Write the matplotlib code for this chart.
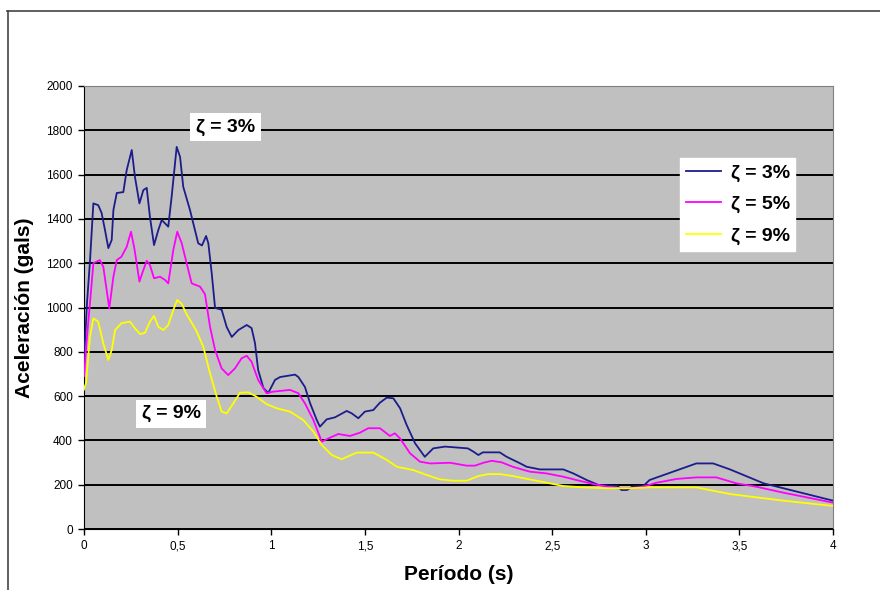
'''Espectros de respuesta de aceleracion para tres amortiguamientos.'''
import matplotlib as mpl
mpl.use('Agg')
import matplotlib.pyplot as plt
from matplotlib.lines import Line2D

# zeta = 3 %
t_3 = [0, 0.016, 0.032, 0.05, 0.076, 0.094, 0.112, 0.13, 0.148, 0.157, 0.175,
       0.21, 0.228, 0.255, 0.272, 0.296, 0.317, 0.335, 0.352, 0.374, 0.397,
       0.415, 0.45, 0.468, 0.495, 0.513, 0.53, 0.566, 0.61, 0.63, 0.652,
       0.664, 0.682, 0.70, 0.735, 0.762, 0.789, 0.824, 0.869, 0.895, 0.913,
       0.93, 0.958, 0.984, 1.02, 1.047, 1.127, 1.145, 1.18, 1.207, 1.243,
       1.26, 1.296, 1.34, 1.403, 1.43, 1.465, 1.50, 1.545, 1.58, 1.617,
       1.652, 1.688, 1.723, 1.768, 1.82, 1.865, 1.928, 2.05, 2.08, 2.106,
       2.13, 2.22, 2.257, 2.33, 2.364, 2.435, 2.56, 2.613, 2.685, 2.747,
       2.85, 2.87, 2.90, 2.93, 2.987, 3.02, 3.11, 3.27, 3.36, 3.45, 3.63,
       3.735, 4.0]
sa_3 = [760, 1020, 1210, 1470, 1462, 1427, 1350, 1268, 1305, 1440, 1517,
        1521, 1620, 1711, 1590, 1470, 1530, 1540, 1410, 1282, 1350,
        1395, 1365, 1500, 1725, 1680, 1545, 1440, 1290, 1280, 1323,
        1290, 1155, 998, 990, 912, 867, 898, 921, 907, 840,
        718, 637, 614, 673, 686, 697, 686, 641, 569, 492,
        462, 495, 504, 533, 522, 500, 530, 537, 570, 593,
        590, 545, 470, 387, 326, 364, 372, 364, 349, 334,
        346, 346, 326, 296, 281, 269, 269, 251, 221, 199,
        194, 176, 176, 192, 194, 221, 248, 296, 296, 269, 206,
        184, 128]

# zeta = 5 %
t_5 = [0, 0.016, 0.032, 0.05, 0.085, 0.103, 0.121, 0.135, 0.157, 0.175, 0.20,
       0.228, 0.251, 0.269, 0.296, 0.317, 0.335, 0.352, 0.374, 0.406, 0.433,
       0.45, 0.477, 0.498, 0.522, 0.548, 0.575, 0.62, 0.646, 0.673, 0.70,
       0.735, 0.77, 0.806, 0.842, 0.869, 0.895, 0.93, 0.975, 1.01, 1.10,
       1.145, 1.18, 1.225, 1.27, 1.305, 1.358, 1.42, 1.474, 1.518, 1.58,
       1.634, 1.66, 1.688, 1.741, 1.794, 1.848, 1.955, 2.044, 2.088, 2.133,
       2.177, 2.23, 2.29, 2.38, 2.47, 2.56, 2.63, 2.72, 2.8, 2.845, 2.916,
       2.987, 3.058, 3.165, 3.27, 3.377, 3.485, 3.59, 3.735, 4.0]
sa_5 = [690, 870, 1020, 1200, 1214, 1184, 1079, 996, 1139, 1214, 1229,
        1274, 1342, 1267, 1117, 1169, 1211, 1192, 1132, 1139, 1124,
        1109, 1260, 1342, 1290, 1200, 1109, 1094, 1060, 913, 808,
        725, 695, 725, 771, 782, 755, 673, 613, 620, 628,
        613, 567, 492, 394, 409, 429, 420, 435, 455, 455,
        420, 432, 409, 342, 304, 296, 299, 286, 286, 299,
        308, 301, 281, 259, 251, 236, 221, 203, 190, 184, 184,
        191, 209, 226, 233, 233, 206, 191, 164, 119]

# zeta = 9 %
t_9 = [0, 0.011, 0.032, 0.05, 0.076, 0.103, 0.13, 0.148, 0.166, 0.20, 0.246,
       0.272, 0.30, 0.326, 0.352, 0.374, 0.397, 0.424, 0.45, 0.477, 0.498,
       0.522, 0.548, 0.60, 0.637, 0.673, 0.709, 0.735, 0.762, 0.797, 0.833,
       0.877, 0.922, 0.975, 1.029, 1.10, 1.171, 1.225, 1.27, 1.323, 1.376,
       1.456, 1.545, 1.617, 1.67, 1.759, 1.83, 1.90, 1.972, 2.044, 2.106,
       2.16, 2.22, 2.29, 2.38, 2.47, 2.56, 2.685, 2.79, 2.916, 3.02, 3.27,
       3.34, 3.45, 3.59, 3.735, 4.0]
sa_9 = [630, 660, 868, 951, 936, 838, 763, 808, 898, 929, 936,
        906, 880, 886, 936, 962, 913, 898, 921, 989, 1034,
        1016, 970, 895, 823, 703, 597, 530, 522, 567, 615,
        617, 597, 564, 545, 530, 492, 440, 379, 334, 315,
        345, 345, 312, 281, 266, 244, 224, 218, 218, 239,
        248, 248, 239, 224, 209, 194, 187, 184, 184, 188, 188,
        176, 158, 143, 128, 104]

x_ticks = [0, 0.5, 1, 1.5, 2, 2.5, 3, 3.5, 4]
x_tick_labels = ['0', '0,5', '1', '1,5', '2', '2,5', '3', '3,5', '4']
y_ticks = [0, 200, 400, 600, 800, 1000, 1200, 1400, 1600, 1800, 2000]

series = [
    (t_3, sa_3, '#1c1c8c', 'ζ = 3%'),
    (t_5, sa_5, '#ff00ff', 'ζ = 5%'),
    (t_9, sa_9, '#ffff00', 'ζ = 9%'),
]

plt.rcParams['font.family'] = ['Liberation Sans', 'DejaVu Sans']

fig = plt.figure(figsize=(8.8, 5.9), dpi=100)
ax = fig.add_axes([84 / 880, 1 - 529 / 590, 749 / 880, 443 / 590])
ax.set_facecolor('#c0c0c0')

# marco exterior del grafico
fig.add_artist(Line2D([7.5 / 880, 7.5 / 880], [0, 1 - 11 / 590],
                      transform=fig.transFigure, color='#444444', lw=1.2))
fig.add_artist(Line2D([7 / 880, 1], [1 - 11 / 590, 1 - 11 / 590],
                      transform=fig.transFigure, color='#444444', lw=1.2))

for t, sa, color, label in series:
    ax.plot(t, sa, color=color, lw=1.3, label=label, zorder=3)

ax.set_xlim(0, 4)
ax.set_ylim(0, 2000)
ax.set_xticks(x_ticks)
ax.set_xticklabels(x_tick_labels)
ax.set_yticks(y_ticks)
ax.yaxis.grid(True, color='black', lw=1.4)
ax.set_axisbelow(True)
ax.tick_params(direction='out', length=4, width=1, labelsize=8.5, pad=4)

for side in ['top', 'right']:
    ax.spines[side].set_color('#808080')
for side in ['left', 'bottom']:
    ax.spines[side].set_color('black')

ax.set_xlabel('Período (s)', fontsize=15, fontweight='bold', labelpad=9)
ax.set_ylabel('Aceleración (gals)', fontsize=15, fontweight='bold',
              labelpad=9)

box = dict(facecolor='white', edgecolor='none', pad=4)
ax.text(0.755, 1815, 'ζ = 3%', fontsize=14, fontweight='bold',
        ha='center', va='center', bbox=box, zorder=4)
ax.text(0.465, 520, 'ζ = 9%', fontsize=14, fontweight='bold',
        ha='center', va='center', bbox=box, zorder=4)

leg = ax.legend(loc='upper left', bbox_to_anchor=(0.7957, 0.8375),
                prop={'weight': 'bold', 'size': 14}, fancybox=False,
                framealpha=1, edgecolor='white', handlelength=1.8,
                borderpad=0.3, labelspacing=0.72, handletextpad=0.5,
                borderaxespad=0)
for line in leg.get_lines():
    line.set_linewidth(1.3)

fig.savefig('out.png', dpi=100)
